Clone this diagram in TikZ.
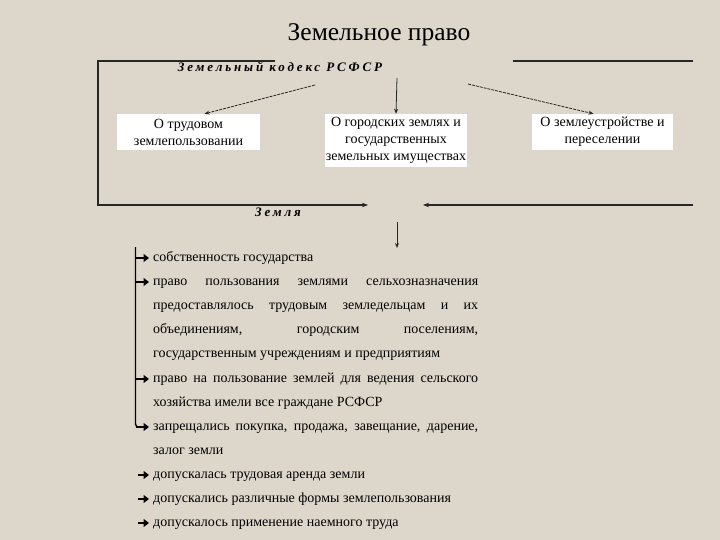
\documentclass[tikz,border=0pt]{standalone}
\usepackage{fontspec}
\setmainfont{Liberation Serif}
\newfontfamily\spacedfont[LetterSpace=22]{Liberation Serif}
\usetikzlibrary{arrows.meta}
\definecolor{paper}{RGB}{221,214,202}
\tikzset{
    frame/.style={line width=1.1pt, draw=black!85},
    link/.style={line width=0.8pt, draw=black!85, -{Stealth[length=5pt,width=4pt]}},
    dlink/.style={link, dash pattern=on 3pt off 1pt},
    topbox/.style={fill=white, inner sep=0pt, align=center,
        font=\fontsize{14}{17}\selectfont},
    item/.style={anchor=north west, inner sep=0pt, text width=325pt, align=justify,
        font=\fontsize{14}{24}\selectfont,
        execute at begin node={\tolerance=10000\hyphenpenalty=10000\strut}},
    bul/.style={line width=2.2pt, -{Triangle[length=5.5pt,width=8pt]}},
    head/.style={font=\spacedfont\fontsize{13}{15}\selectfont\bfseries\itshape, inner sep=1pt},
}
\begin{document}
\begin{tikzpicture}[x=1pt, y=-1pt]
\fill[paper] (0,0) rectangle (720,540);
\useasboundingbox (0,0) rectangle (720,540);

\node (title) at (379,35) {\fontsize{25.5}{28}\selectfont Земельное право};
\node[head] (kodeks) at (280,67) {Земельный кодекс РСФСР};
\node[head] (zemlya) at (278,212) {Земля};

% boxes
\node[topbox, minimum width=143pt, minimum height=36pt] (box1) at (188.5,132) {О трудовом\\землепользовании};
\node[topbox, minimum width=142pt, minimum height=53pt] (box2) at (396,140.5) {О городских землях и\\государственных\\земельных имуществах};
\node[topbox, minimum width=141pt, minimum height=36pt] (box3) at (602.5,132) {О землеустройстве и\\переселении};

\coordinate (k1) at (315,85);
\coordinate (k2) at (397,78);
\coordinate (k3) at (468,84);
\draw[dlink] (k1) -- ([xshift=16pt]box1.north);
\draw[link] (k2) -- (box2.north);
\draw[dlink] (k3) -- ([xshift=-9pt]box3.north);

% frame
\coordinate (tl) at (98,61);
\coordinate (lend) at (368,205);
\coordinate (rend) at (423,205);
\draw[frame, -{Stealth[length=6pt,width=4.5pt]}] (275,61) -- (tl) |- (lend);
\draw[frame] (513,61) -- (693,61);
\draw[frame, -{Stealth[length=6pt,width=4.5pt]}] (693,205) -- (rend);
\draw[link, line width=1pt] (397,222) -- (397,248);

% list
\node[item] (it1) at (153,244.2) {собственность государства};
\node[item] (it2) at (153,268.2) {право пользования землями сельхозназначения\linebreak
    предоставлялось трудовым земледельцам и их\linebreak
    объединениям, городским поселениям,\linebreak
    государственным учреждениям и предприятиям};
\node[item] (it3) at (153,365.2) {право на пользование землей для ведения сельского\linebreak
    хозяйства имели все граждане РСФСР};
\node[item] (it4) at (153,413.2) {запрещались покупка, продажа, завещание, дарение,\linebreak
    залог земли};
\node[item] (it5) at (153,461.2) {допускалась трудовая аренда земли};
\node[item] (it6) at (153,485.2) {допускались различные формы землепользования};
\node[item] (it7) at (153,509.2) {допускалось применение наемного труда};

\draw[line width=1.4pt, rounded corners=3pt] (135.5,247) |- (141,427);
\foreach \y in {258,282,379,427} {
    \draw[bul] (136,\y) -- (149,\y);
}
\foreach \y in {475,499,523} {
    \draw[bul] (138,\y) -- (149,\y);
}
\end{tikzpicture}
\end{document}
